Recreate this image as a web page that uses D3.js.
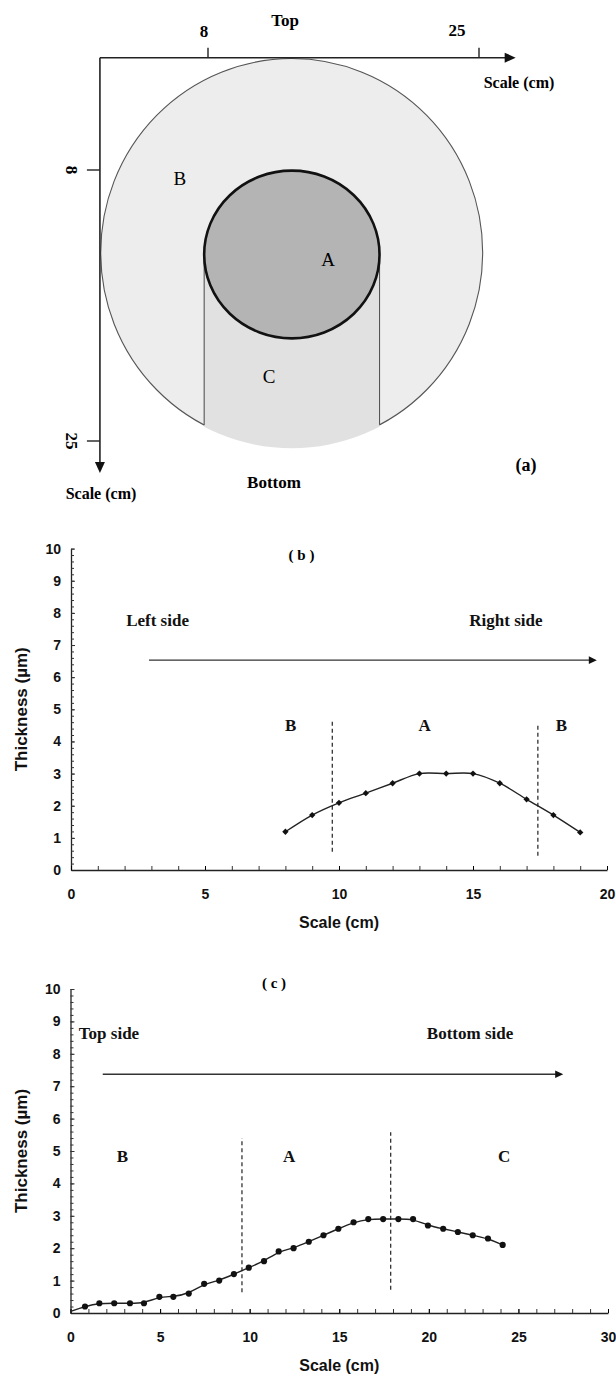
<!DOCTYPE html>
<html><head><meta charset="utf-8">
<script src="https://cdn.jsdelivr.net/npm/d3@7"></script>
<style>body{margin:0;background:#fff}</style>
</head><body>
<svg id="chart" width="616" height="1375"></svg>
<script>
// ---------------- DATA ----------------
// Panel (a): sheet geometry (cm)
const aTicks = [8, 25];
const aOuterZone = [13.25, 13.18, 11.98, 12.17];   // cx, cy, rx, ry
const aInnerZone = [13.26, 13.30, 5.50, 5.26];     // cx, cy, rx, ry
const aAxisStart = [1.22, 0.955];
const aAxisEnd = [27.3, 27.0];
const aZoneNames = ["B", "A", "C"];
const aZoneX = [6.24, 15.53, 11.83];
const aZoneY = [8.5, 13.58, 20.92];

// Panel (b): left -> right
const bScale = [8, 9, 10, 11, 12, 13, 14, 15, 16, 17, 18, 19];
const bThickness = [1.19, 1.71, 2.09, 2.39, 2.7, 3.0, 3.0, 3.0, 2.7, 2.2, 1.71, 1.17];
const bXTicks = [0, 5, 10, 15, 20];
const bBoundaryX = [9.75, 17.42];
const bBoundaryBottom = [0.57, 0.44];
const bBoundaryTop = [4.67, 4.56];
const bZoneNames = ["B", "A", "B"];
const bZoneX = [8.2, 13.2, 18.3];

// Panel (c): top -> bottom
const cScale = [0.81, 1.61, 2.44, 3.32, 4.1, 4.96, 5.74, 6.6, 7.46, 8.3, 9.12, 9.95, 10.8, 11.62, 12.45, 13.3, 14.12, 14.95, 15.8, 16.62, 17.45, 18.3, 19.12, 19.95, 20.8, 21.62, 22.45, 23.3, 24.12];
const cThickness = [0.2, 0.3, 0.3, 0.3, 0.3, 0.5, 0.5, 0.6, 0.9, 1.0, 1.2, 1.4, 1.6, 1.9, 2.0, 2.2, 2.4, 2.6, 2.8, 2.9, 2.9, 2.9, 2.9, 2.7, 2.6, 2.5, 2.4, 2.3, 2.1];
const cCurveStart = [0, 0.05];
const cXTicks = [0, 5, 10, 15, 20, 25, 30];
const cBoundaryX = [9.57, 17.87];
const cBoundaryBottom = [0.64, 0.72];
const cBoundaryTop = [5.4, 5.58];
const cZoneNames = ["B", "A", "C"];
const cZoneX = [2.9, 12.2, 24.2];

const yTicks = [0, 1, 2, 3, 4, 5, 6, 7, 8, 9, 10];

// ---------------- DRAW ----------------
const svg = d3.select("#chart");
svg.append("rect").attr("width", 616).attr("height", 1375).attr("fill", "#fff");
const SERIF = "'Liberation Serif','Times New Roman',serif";
const SANS = "'Liberation Sans',Arial,sans-serif";

function arrowHead(g, x, y, dir, len, half, color) {
  let pts;
  if (dir === "right") pts = [[x, y], [x - len, y - half], [x - len, y + half]];
  else pts = [[x, y], [x - half, y - len], [x + half, y - len]];
  g.append("path").attr("d", "M" + pts.map(p => p.join(",")).join("L") + "Z").attr("fill", color);
}

// ---- Panel (a) ----
(function () {
  const g = svg.append("g");
  const xa = d3.scaleLinear().domain([8, 25]).range([208, 479]);
  const ya = d3.scaleLinear().domain([8, 25]).range([170, 441]);
  const k = (xa(25) - xa(8)) / 17;
  const [ocx, ocy, orx, ory] = aOuterZone;
  const [icx, icy, irx, iry] = aInnerZone;

  const defs = svg.append("defs");
  defs.append("clipPath").attr("id", "outerClip").append("ellipse")
    .attr("cx", xa(ocx)).attr("cy", ya(ocy)).attr("rx", orx * k + 1.6).attr("ry", ory * k + 1.6);

  g.append("ellipse").attr("cx", xa(ocx)).attr("cy", ya(ocy)).attr("rx", orx * k).attr("ry", ory * k)
    .attr("fill", "#ededed").attr("stroke", "#555").attr("stroke-width", 1.1);

  // zone C
  g.append("rect").attr("clip-path", "url(#outerClip)")
    .attr("x", xa(icx - irx)).attr("y", ya(icy))
    .attr("width", (2 * irx) * k).attr("height", ya(ocy + ory) - ya(icy) + 4)
    .attr("fill", "#e1e1e1");

  // vertical boundary lines
  [icx - irx, icx + irx].forEach(xc => {
    const dx = (xc - ocx) / orx;
    const yEnd = ocy + ory * Math.sqrt(1 - dx * dx);
    g.append("line").attr("x1", xa(xc)).attr("x2", xa(xc)).attr("y1", ya(icy)).attr("y2", ya(yEnd))
      .attr("stroke", "#555").attr("stroke-width", 1.1);
  });

  g.append("ellipse").attr("cx", xa(icx)).attr("cy", ya(icy)).attr("rx", irx * k).attr("ry", iry * k)
    .attr("fill", "#b4b4b4").attr("stroke", "#111").attr("stroke-width", 2.6);

  // axes
  const ox = xa(aAxisStart[0]), oy = ya(aAxisStart[1]);
  g.append("line").attr("x1", ox).attr("y1", oy).attr("x2", xa(aAxisEnd[0]) - 8).attr("y2", oy)
    .attr("stroke", "#222").attr("stroke-width", 1.6);
  arrowHead(g, xa(aAxisEnd[0]), oy, "right", 11, 5, "#111");
  g.append("line").attr("x1", ox).attr("y1", oy).attr("x2", ox).attr("y2", ya(aAxisEnd[1]) - 8)
    .attr("stroke", "#222").attr("stroke-width", 1.6);
  arrowHead(g, ox, ya(aAxisEnd[1]), "down", 11, 5, "#111");

  aTicks.forEach(t => {
    g.append("line").attr("x1", xa(t)).attr("x2", xa(t)).attr("y1", oy).attr("y2", oy - 10)
      .attr("stroke", "#222").attr("stroke-width", 1.4);
    g.append("line").attr("x1", ox).attr("x2", ox - 13).attr("y1", ya(t)).attr("y2", ya(t))
      .attr("stroke", "#222").attr("stroke-width", 1.4);
  });
  g.append("text").attr("x", xa(8) - 4).attr("y", 37).attr("text-anchor", "middle")
    .attr("font-family", SERIF).attr("font-weight", "bold").attr("font-size", 17).text("8");
  g.append("text").attr("x", xa(25) - 22).attr("y", 36).attr("text-anchor", "middle")
    .attr("font-family", SERIF).attr("font-weight", "bold").attr("font-size", 17).text("25");
  aTicks.forEach(t => {
    g.append("text").attr("transform", `translate(${ox - 28},${ya(t)}) rotate(90)`)
      .attr("text-anchor", "middle").attr("dy", "0.35em")
      .attr("font-family", SERIF).attr("font-weight", "bold").attr("font-size", 17).text(String(t));
  });

  const bold = (x, y, s, size) => g.append("text").attr("x", x).attr("y", y).attr("text-anchor", "middle")
    .attr("font-family", SERIF).attr("font-weight", "bold").attr("font-size", size).text(s);
  bold(285, 26, "Top", 17);
  bold(519, 88, "Scale (cm)", 16);
  bold(274, 488, "Bottom", 17);
  bold(101, 499, "Scale (cm)", 16);
  bold(526, 471, "(a)", 18);

  aZoneNames.forEach((n, i) => {
    g.append("text").attr("x", xa(aZoneX[i])).attr("y", ya(aZoneY[i])).attr("dy", "0.35em")
      .attr("text-anchor", "middle").attr("font-family", SERIF).attr("font-size", 19).text(n);
  });
})();

// ---- Panels (b) and (c) ----
function drawPanel(cfg) {
  const g = svg.append("g");
  const x = d3.scaleLinear().domain([0, cfg.xMax]).range(cfg.xRange);
  const y = d3.scaleLinear().domain([0, 10]).range(cfg.yRange);

  g.append("g").attr("transform", `translate(${x(0)},0)`)
    .call(d3.axisLeft(y).tickValues(d3.range(0, 10.001, 0.2)).tickSize(-3).tickSizeOuter(0).tickFormat(""))
    .call(s => s.selectAll("line").attr("stroke", "#333"))
    .call(s => s.select(".domain").attr("stroke", "#222").attr("stroke-width", 1.3));
  g.append("g").attr("transform", `translate(${x(0)},0)`)
    .call(d3.axisLeft(y).tickValues(yTicks).tickSize(-4).tickSizeOuter(0).tickPadding(10))
    .call(s => s.select(".domain").remove())
    .call(s => s.selectAll("line").attr("stroke", "#333"))
    .call(s => s.selectAll("text").attr("font-family", SANS).attr("font-weight", "bold")
      .attr("font-size", 14).attr("fill", "#111"));

  g.append("g").attr("transform", `translate(0,${y(0)})`)
    .call(d3.axisBottom(x).tickValues(d3.range(0, cfg.xMax + 0.001, 1)).tickSize(-4).tickSizeOuter(0).tickFormat(""))
    .call(s => s.selectAll("line").attr("stroke", "#333"))
    .call(s => s.select(".domain").attr("stroke", "#222").attr("stroke-width", 1.3));
  g.append("g").attr("transform", `translate(0,${y(0)})`)
    .call(d3.axisBottom(x).tickValues(cfg.xTicks).tickSize(-4).tickSizeOuter(0).tickPadding(19))
    .call(s => s.select(".domain").remove())
    .call(s => s.selectAll("text").attr("font-family", SANS).attr("font-weight", "bold")
      .attr("font-size", 14).attr("fill", "#111"));

  g.append("text").attr("transform", `translate(${cfg.yTitleX},${y(5)}) rotate(-90)`)
    .attr("text-anchor", "middle").attr("dy", "0.35em")
    .attr("font-family", SANS).attr("font-weight", "bold").attr("font-size", 17).attr("fill", "#111")
    .text("Thickness (µm)");
  g.append("text").attr("x", (cfg.xRange[0] + cfg.xRange[1]) / 2).attr("y", y(0) + 58)
    .attr("text-anchor", "middle")
    .attr("font-family", SANS).attr("font-weight", "bold").attr("font-size", 16).attr("fill", "#111")
    .text("Scale (cm)");

  g.append("text").attr("x", x(cfg.panelLabelX)).attr("y", y(cfg.panelLabelY)).attr("dy", "0.35em")
    .attr("text-anchor", "middle").attr("font-family", SERIF).attr("font-weight", "bold")
    .attr("font-size", 15).text(cfg.panelLabel);

  cfg.sideLabels.forEach((s, i) => {
    g.append("text").attr("x", x(cfg.sideX[i])).attr("y", y(cfg.sideY)).attr("dy", "0.35em")
      .attr("text-anchor", "middle").attr("font-family", SERIF).attr("font-weight", "bold")
      .attr("font-size", 17).attr("fill", "#111").text(s);
  });
  g.append("line").attr("x1", x(cfg.arrow[0])).attr("x2", x(cfg.arrow[1]) - 5)
    .attr("y1", y(cfg.arrowY)).attr("y2", y(cfg.arrowY)).attr("stroke", "#333").attr("stroke-width", 1.4);
  arrowHead(g, x(cfg.arrow[1]), y(cfg.arrowY), "right", 8, 3.8, "#111");

  cfg.boundaryX.forEach((bx, i) => {
    g.append("line").attr("x1", x(bx)).attr("x2", x(bx))
      .attr("y1", y(cfg.boundaryBottom[i])).attr("y2", y(cfg.boundaryTop[i]))
      .attr("stroke", "#333").attr("stroke-width", 1.3).attr("stroke-dasharray", "4,3");
  });
  cfg.zoneNames.forEach((n, i) => {
    g.append("text").attr("x", x(cfg.zoneX[i])).attr("y", y(cfg.zoneY)).attr("dy", "0.35em")
      .attr("text-anchor", "middle").attr("font-family", SERIF).attr("font-weight", "bold")
      .attr("font-size", 17).attr("fill", "#111").text(n);
  });

  const pts = cfg.xs.map((v, i) => [v, cfg.ys[i]]);
  const linePts = cfg.curveStart ? [cfg.curveStart].concat(pts) : pts;
  g.append("path").datum(linePts)
    .attr("d", d3.line().x(d => x(d[0])).y(d => y(d[1])).curve(cfg.curve))
    .attr("fill", "none").attr("stroke", "#222").attr("stroke-width", 1.4);
  g.selectAll(".pt").data(pts).enter().append("path")
    .attr("transform", d => `translate(${x(d[0])},${y(d[1])})` + (cfg.marker === "diamond" ? " rotate(45)" : ""))
    .attr("d", cfg.marker === "diamond" ? d3.symbol(d3.symbolSquare, 20)() : d3.symbol(d3.symbolCircle, 30)())
    .attr("fill", "#111");
}

drawPanel({
  xMax: 20, xRange: [71, 607], yRange: [870, 548.6], xTicks: bXTicks,
  yTitleX: 21, panelLabel: "( b )", panelLabelX: 8.6, panelLabelY: 9.8,
  sideLabels: ["Left side", "Right side"], sideX: [3.23, 16.23], sideY: 7.78,
  arrow: [2.91, 19.62], arrowY: 6.53,
  boundaryX: bBoundaryX, boundaryBottom: bBoundaryBottom, boundaryTop: bBoundaryTop,
  zoneNames: bZoneNames, zoneX: bZoneX, zoneY: 4.5,
  xs: bScale, ys: bThickness, curve: d3.curveCatmullRom.alpha(0.5), marker: "diamond"
});

drawPanel({
  xMax: 30, xRange: [70.5, 608], yRange: [1313, 989], xTicks: cXTicks,
  yTitleX: 21, panelLabel: "( c )", panelLabelX: 11.36, panelLabelY: 10.2,
  sideLabels: ["Top side", "Bottom side"], sideX: [2.15, 22.3], sideY: 8.64,
  arrow: [1.8, 27.5], arrowY: 7.37,
  boundaryX: cBoundaryX, boundaryBottom: cBoundaryBottom, boundaryTop: cBoundaryTop,
  zoneNames: cZoneNames, zoneX: cZoneX, zoneY: 4.85,
  xs: cScale, ys: cThickness, curveStart: cCurveStart, curve: d3.curveBasis, marker: "circle"
});
</script>
</body></html>
